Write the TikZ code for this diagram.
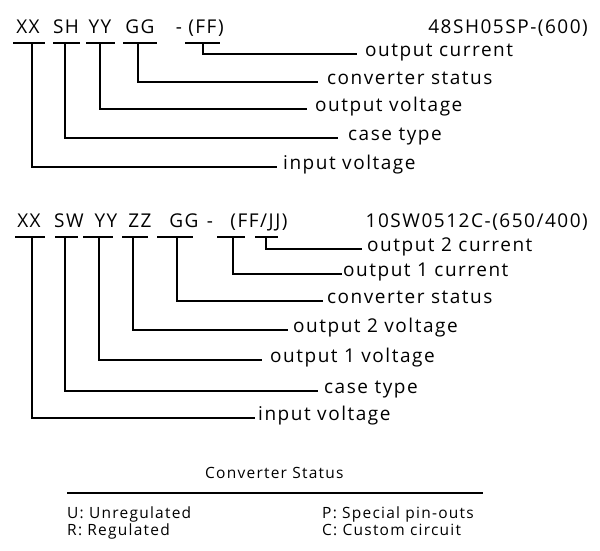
\documentclass[tikz,border=0pt]{standalone}
\usepackage{fontspec}
\newfontfamily\bigf{Open Sans}[LetterSpace=8]
\newfontfamily\smallf{Open Sans}[LetterSpace=8]
\begin{document}
\begin{tikzpicture}[x=1pt,y=-1pt,
  tok/.style={font=\bigf\fontsize{19}{22}\selectfont, anchor=base, inner sep=0pt},
  lbl/.style={font=\bigf\fontsize{19}{22}\selectfont, anchor=west, inner sep=0pt, text height=1ex, text depth=0pt},
  sm/.style={font=\smallf\fontsize{15.5}{18}\selectfont, anchor=base west, inner sep=0pt},
  ln/.style={line width=1.3pt},
  lead/.style={line width=1.3pt, shorten >=#1},
  lead/.default=5pt]
\useasboundingbox (0,0) rectangle (600,550);

% ---------- first code ----------
\node[tok] (t1xx) at (28,33) {XX};
\node[tok] (t1sh) at (66,33) {SH};
\node[tok] (t1yy) at (100,33) {YY};
\node[tok] (t1gg) at (140,33) {GG};
\node[tok] (t1da) at (179,33) {-};
\node[tok] (t1ff) at (206,33) {(FF)};
\node[tok, anchor=base east] (ex1) at (588,33) {48SH05SP-(600)};

\draw[ln] (13,43) -- (45,43) (53,43) -- (80,43) (86,43) -- (115,43)
          (123,43) -- (157,43) (185,43) -- (220,43);
\coordinate (a1xx) at (32,43);
\coordinate (a1sh) at (65,43);
\coordinate (a1yy) at (100,43);
\coordinate (a1gg) at (138,43);
\coordinate (a1ff) at (203,43);

\node[lbl] (l1cur)  at (365,54)  {output current};
\node[lbl] (l1stat) at (327,82)  {converter status};
\node[lbl] (l1ov)   at (315,109) {output voltage};
\node[lbl] (l1case) at (348,138) {case type};
\node[lbl] (l1in)   at (283,167) {input voltage};

\draw[lead=8pt] (a1ff) |- (l1cur);
\draw[lead=9pt] (a1gg) |- (l1stat);
\draw[lead=8pt] (a1yy) |- (l1ov);
\draw[lead=10pt] (a1sh) |- (l1case);
\draw[lead=6pt] (a1xx) |- (l1in);

% ---------- second code ----------
\node[tok] (t2xx) at (29,227) {XX};
\node[tok] (t2sw) at (69,227) {SW};
\node[tok] (t2yy) at (106,227) {YY};
\node[tok] (t2zz) at (140,227) {ZZ};
\node[tok] (t2gg) at (184,227) {GG};
\node[tok] (t2da) at (210,227) {-};
\node[tok] (t2ff) at (259,227) {(FF/JJ)};
\node[tok, anchor=base east] (ex2) at (588,227) {10SW0512C-(650/400)};

\draw[ln] (15,237) -- (45,237) (55,237) -- (78,237) (83,237) -- (113,237)
          (122,237) -- (148,237) (157,237) -- (193,237)
          (217,237) -- (245,237) (255,237) -- (278,237);
\coordinate (a2xx) at (32,237);
\coordinate (a2sw) at (65,237);
\coordinate (a2yy) at (99,237);
\coordinate (a2zz) at (133,237);
\coordinate (a2gg) at (177,237);
\coordinate (a2ff) at (233,237);
\coordinate (a2jj) at (266,237);

\node[lbl] (l2o2c)  at (367,249) {output 2 current};
\node[lbl] (l2o1c)  at (343,274) {output 1 current};
\node[lbl] (l2stat) at (327,301) {converter status};
\node[lbl] (l2o2v)  at (293,330) {output 2 voltage};
\node[lbl] (l2o1v)  at (270,360) {output 1 voltage};
\node[lbl] (l2case) at (324,391) {case type};
\node[lbl] (l2in)   at (258,418) {input voltage};

\draw[lead=5pt] (a2jj) |- (l2o2c);
\draw[lead=1pt] (a2ff) |- (l2o1c);
\draw[lead=4pt] (a2gg) |- (l2stat);
\draw[lead=5pt] (a2zz) |- (l2o2v);
\draw[lead=8pt] (a2yy) |- (l2o1v);
\draw[lead=6pt] (a2sw) |- (l2case);
\draw[lead=3pt] (a2xx) |- (l2in);

% ---------- legend ----------
\node[sm] (cs) at (205,478) {Converter Status};
\coordinate (rl) at (67,493);
\coordinate (rr) at (483,493);
\draw[ln] (rl) -- (rr);
\node[sm] (u) at (67,518) {U: Unregulated};
\node[sm] (r) at (67,535) {R: Regulated};
\node[sm] (p) at (322,518) {P: Special pin-outs};
\node[sm] (c) at (322,535) {C: Custom circuit};
\end{tikzpicture}
\end{document}
